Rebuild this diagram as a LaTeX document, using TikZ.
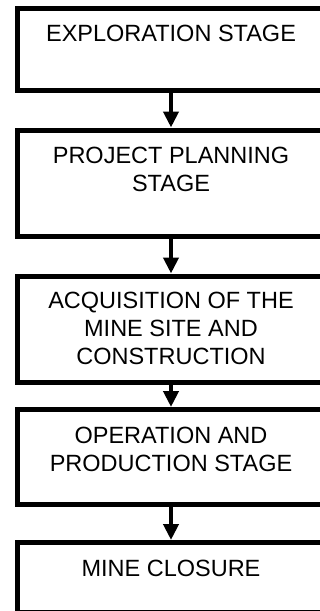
\documentclass[tikz,border=0pt]{standalone}
\usepackage{fontspec}
\setmainfont{Liberation Sans}
\usetikzlibrary{positioning,arrows.meta}

\begin{document}
\begin{tikzpicture}[x=1pt,y=-1pt,
  stage/.style={draw,line width=5pt,minimum width=307pt,inner sep=0pt},
  stagetext/.style={align=center,inner sep=0pt,font=\fontsize{23.5}{28}\selectfont},
  flow/.style={line width=4.5pt,-{Triangle[width=15pt,length=16pt]}}]
\useasboundingbox (0,0) rectangle (320,611);
% stage boxes
\node [stage,minimum height=82pt] (explore) at (171,49.5) {};
\node [stage,minimum height=106pt] (plan) at (171,183) {};
\node [stage,minimum height=106.5pt] (acquire) at (171,329.25) {};
\node [stage,minimum height=95pt] (operate) at (171,457) {};
\node [stage,minimum height=69.5pt] (closure) at (171,577.25) {};
% texts at the top of each box
\node [stagetext,below=19pt of explore.north] (explore-t) {EXPLORATION STAGE};
\node [stagetext,below=19.5pt of plan.north] (plan-t) {PROJECT PLANNING\\STAGE};
\node [stagetext,below=18.5pt of acquire.north] (acquire-t) {ACQUISITION OF THE\\MINE SITE AND\\CONSTRUCTION};
\node [stagetext,below=20pt of operate.north] (operate-t) {OPERATION AND\\PRODUCTION STAGE};
\node [stagetext,below=20pt of closure.north] (closure-t) {MINE CLOSURE};
% arrows
\draw [flow] (explore.south) -- (plan.north);
\draw [flow] (plan.south) -- (acquire.north);
\draw [flow] (acquire.south) -- (operate.north);
\draw [flow] (operate.south) -- (closure.north);
\end{tikzpicture}
\end{document}
